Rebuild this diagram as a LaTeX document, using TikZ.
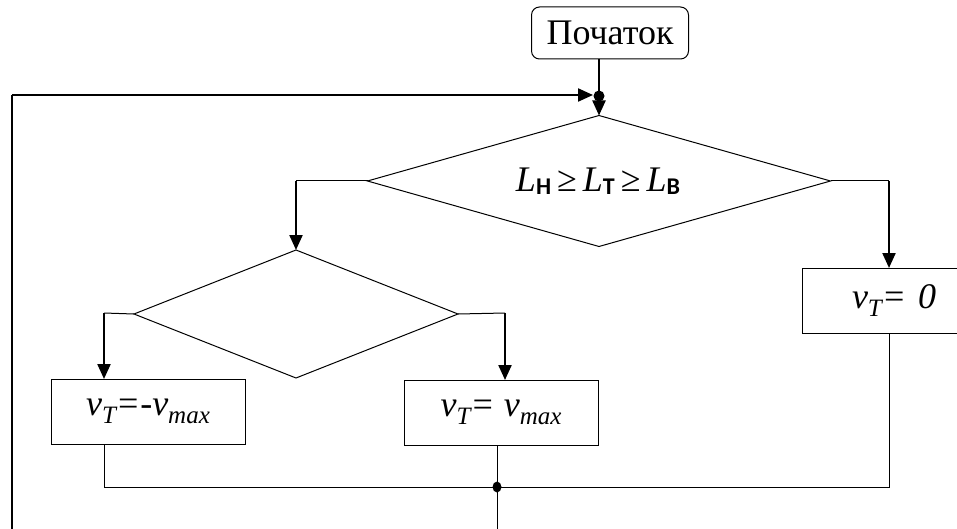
\documentclass[tikz,border=0pt]{standalone}
\usepackage{fontspec}
\setmainfont{Liberation Serif}
\newfontfamily\subsf{Carlito}
\usetikzlibrary{arrows.meta,shapes.geometric,calc}
\newcommand\vsub[1]{\raisebox{-0.22em}{\fontsize{25}{25}\selectfont #1}}
\newcommand\lsub[1]{\raisebox{-0.28em}{\subsf\bfseries\fontsize{24}{24}\selectfont #1}}
\newcommand\myL{{\fontsize{36}{36}\selectfont\itshape L}}
\newcommand\myge{{\fontsize{36}{36}\selectfont ≥}}
\begin{document}
\begin{tikzpicture}[x=1pt,y=-1pt,
  thinln/.style={line width=1pt},
  thickln/.style={line width=2.2pt},
  arr/.style={thickln,-{Triangle[width=13pt,length=15pt]}},
  procbox/.style={draw,line width=1pt,inner sep=0pt,outer sep=0pt,font=\fontsize{36}{36}\selectfont\itshape},
  decide/.style={draw,diamond,line width=1pt,inner sep=0pt,outer sep=0pt},
  startbox/.style={draw,line width=1pt,rounded corners=8pt,inner sep=0pt,outer sep=0pt,font=\fontsize{36}{36}\selectfont}]
\useasboundingbox (0,0) rectangle (957,529);

\node[startbox,minimum width=157pt,minimum height=52pt] (st) at (610,33) {Початок};
\coordinate (j1) at (599,96);
\node[decide,minimum width=463pt,minimum height=131pt] (d1) at (599,181) {};
\node (ftx) at (598,181) {\myL\lsub{Н}\hspace{6pt}\myge\hspace{6pt}\myL\lsub{Т}\hspace{6pt}\myge\hspace{6pt}\myL\lsub{В}};
\node[decide,minimum width=324pt,minimum height=128pt] (d2) at (296,314) {};
\node[procbox,minimum width=194pt,minimum height=65pt] (b1) at (148,411.5) {v\vsub{T}=-v\vsub{max}};
\node[procbox,minimum width=194pt,minimum height=65pt] (b2) at (501,412.5) {v\vsub{T}= v\vsub{max}};
\node[procbox,minimum width=174pt,minimum height=65pt,text width=174pt,align=left] (b3) at (889,300.5) {\hspace*{50pt}v\vsub{T}= 0};

\coordinate (lb) at (12,529);
\coordinate (lt) at (12,95);
\coordinate (c1) at (104,313);
\coordinate (c2) at (505,313);
\coordinate (m) at (497,487);
\coordinate (mb) at (497,529);

% start and loop
\draw[thickln] (st.south -| j1) -- (j1);
\draw[arr] (j1) -- (d1.north);
\draw[line width=1.3pt] (lb) -- (lt);
\draw[arr,shorten >=6pt] (lt) -- (lt -| j1);
\fill (j1) circle (5.5pt);

% big decision branches
\draw[thinln] (d1.west) -- (d1.west -| d2.north);
\draw[arr] (d1.west -| d2.north) -- (d2.north);
\draw[thinln] (d1.east) -- (d1.east -| b3.north);
\draw[arr] (d1.east -| b3.north) -- (b3.north);

% small decision branches
\draw[thinln] (d2.west) -- (c1);
\draw[arr] (c1) -- (c1 |- b1.north);
\draw[thinln] (d2.east) -- (c2);
\draw[arr] (c2) -- (c2 |- b2.north);

% merge
\draw[thinln] (c1 |- b1.south) -- (c1 |- m) -- (b3.south |- m) -- (b3.south);
\draw[thinln] (m |- b2.south) -- (mb);
\fill (m) ellipse (4.5pt and 5.5pt);
\end{tikzpicture}
\end{document}
